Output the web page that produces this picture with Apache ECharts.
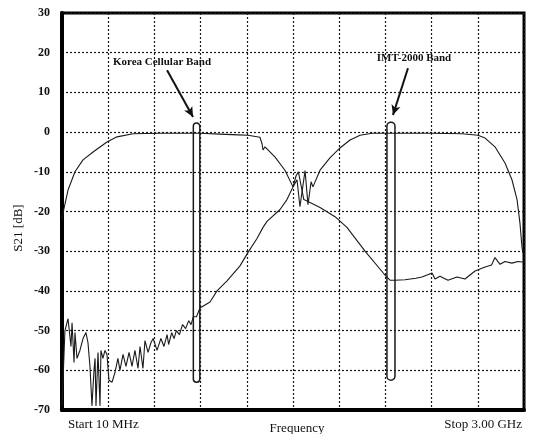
<!DOCTYPE html>
<html><head><meta charset="utf-8">
<script src="https://cdn.jsdelivr.net/npm/echarts@6/dist/echarts.min.js"></script>
<style>html,body{margin:0;padding:0;background:#fff}#c{width:535px;height:434px}</style>
</head><body><div id="c"></div>
<script>
// Frequency in MHz, S21 in dB
const lowBandFreq = [10,16,49,94,146,211,301,366,470,644,903,1033,1150,1214,1291,1305,1311,1324,1389,1453,1505,1525,1540,1560,1575,1602,1680,1777,1854,1971,2100,2133,2165,2230,2300,2340,2405,2424,2456,2508,2566,2618,2683,2748,2790,2812,2845,2877,2922,2961,3000];
const lowBandDb   = [-22,-20.5,-14.6,-10,-7,-5,-2.5,-1.2,-0.4,-0.3,-0.3,-0.5,-0.7,-0.8,-1.3,-3,-4.5,-3.7,-6.3,-9.6,-13.8,-11,-10,-14,-17,-17.5,-19,-21.3,-24,-30,-36,-37.3,-37.3,-37.2,-36.8,-36.5,-35.5,-37,-36.3,-37.3,-36.5,-37,-35,-34,-33.5,-31.6,-33.3,-32.6,-33,-32.6,-32.8];

const highBandFreq = [10,16,29,49,55,68,75,88,94,107,126,146,165,178,191,204,217,224,230,243,256,262,275,288,301,314,334,353,372,385,405,424,444,463,482,502,515,534,547,567,586,600,625,650,670,690,700,720,735,750,770,790,810,830,845,860,880,903,968,1013,1078,1162,1214,1272,1311,1337,1421,1466,1505,1531,1550,1583,1602,1622,1634,1680,1744,1809,1874,1939,2016,2200,2400,2600,2702,2748,2812,2877,2922,2955,2974,2987,2993];
const highBandDb   = [-69,-63,-50,-47,-46.5,-54,-48,-58,-50.5,-57,-55,-52,-50.5,-53,-59,-69,-60,-57,-69,-55.5,-69,-55,-57,-55,-56,-62.5,-63,-60.5,-57,-60,-56,-59,-55.5,-59,-55,-59.5,-54,-59.5,-52.5,-55.5,-53,-52,-55,-52,-54,-51,-53.5,-50.5,-52,-50,-51,-48.5,-49.5,-47.5,-48.5,-46.5,-46.5,-44.3,-42.8,-40,-37.5,-33.7,-30.3,-26.8,-24,-22.5,-19.5,-17,-13.8,-12,-18.8,-9.7,-18.3,-12.5,-13.8,-9.6,-6.5,-4,-2,-0.8,-0.3,-0.3,-0.3,-0.4,-0.8,-1.5,-3.7,-7.8,-12,-17,-23,-29,-30.5];

// band markers: [startMHz, stopMHz, topDb, bottomDb]
const bandNames = ['Korea Cellular Band','IMT-2000 Band'];
const bandStart = [860, 2113];
const bandStop  = [902, 2165];
const bandTop   = [2.3, 2.5];
const bandBottom= [-63, -62.5];
// arrows: from [MHz, dB] to [MHz, dB]
const arrowFrom = [[690, 15.6],[2249, 16.1]];
const arrowTo   = [[858, 3.8],[2152, 4.3]];

const zip = (a,b) => a.map((v,i)=>[v,b[i]]);
const ink = '#1a1a1a';
const chart = echarts.init(document.getElementById('c'));
chart.setOption({
  animation:false,
  backgroundColor:'#fff',
  grid:{left:62,right:11,top:13,bottom:24,show:true,borderColor:'#000',borderWidth:3,backgroundColor:'transparent'},
  xAxis:{type:'value',min:10,max:3000,interval:299,
    axisLine:{show:true,onZero:false,lineStyle:{color:'#000',width:4}},
    axisTick:{show:false},axisLabel:{show:false},
    splitLine:{show:true,lineStyle:{color:ink,width:1.2,type:[2,2]}}},
  yAxis:{type:'value',min:-70,max:30,interval:10,
    axisLine:{show:true,onZero:false,lineStyle:{color:'#000',width:4}},
    axisTick:{show:false},
    axisLabel:{margin:12,color:'#111',fontFamily:'Liberation Serif',fontWeight:'bold',fontSize:12},
    splitLine:{show:true,lineStyle:{color:ink,width:1.2,type:[2,2]}}},
  graphic:[
    {type:'text',x:19,y:228,rotation:Math.PI/2,style:{text:'S21 [dB]',font:'13px "Liberation Serif"',fill:'#111',textAlign:'center',textVerticalAlign:'middle'}},
    {type:'text',x:68,y:425,style:{text:'Start 10 MHz',font:'13px "Liberation Serif"',fill:'#111',textVerticalAlign:'middle'}},
    {type:'text',x:297,y:429,style:{text:'Frequency',font:'13px "Liberation Serif"',fill:'#111',textAlign:'center',textVerticalAlign:'middle'}},
    {type:'text',x:522,y:425,style:{text:'Stop 3.00 GHz',font:'13px "Liberation Serif"',fill:'#111',textAlign:'right',textVerticalAlign:'middle'}},
    {type:'text',x:162,y:62,style:{text:bandNames[0],font:'bold 11px "Liberation Serif"',fill:'#111',textAlign:'center',textVerticalAlign:'middle'}},
    {type:'text',x:414,y:58,style:{text:bandNames[1],font:'bold 11px "Liberation Serif"',fill:'#111',textAlign:'center',textVerticalAlign:'middle'}}
  ],
  series:[
    {type:'line',data:zip(lowBandFreq,lowBandDb),showSymbol:false,symbol:'none',lineStyle:{color:ink,width:1.1},z:3},
    {type:'line',data:zip(highBandFreq,highBandDb),showSymbol:false,symbol:'none',lineStyle:{color:ink,width:1.1},z:3,
      markLine:{silent:true,symbol:['none','arrow'],symbolSize:[7,10],label:{show:false},
        lineStyle:{color:'#111',width:2,type:'solid'},
        data:arrowFrom.map((f,i)=>[{coord:f},{coord:arrowTo[i]}])}},
    {type:'custom',z:4,data:bandStart.map((s,i)=>[s,bandStop[i],bandTop[i],bandBottom[i]]),
      renderItem:function(params,api){
        const p0=api.coord([api.value(0),api.value(2)]);
        const p1=api.coord([api.value(1),api.value(3)]);
        const w=p1[0]-p0[0];
        return {type:'rect',shape:{x:p0[0],y:p0[1],width:w,height:p1[1]-p0[1],r:w/2},
          style:{fill:'none',stroke:ink,lineWidth:1.5}};
      }}
  ]
});
</script></body></html>
